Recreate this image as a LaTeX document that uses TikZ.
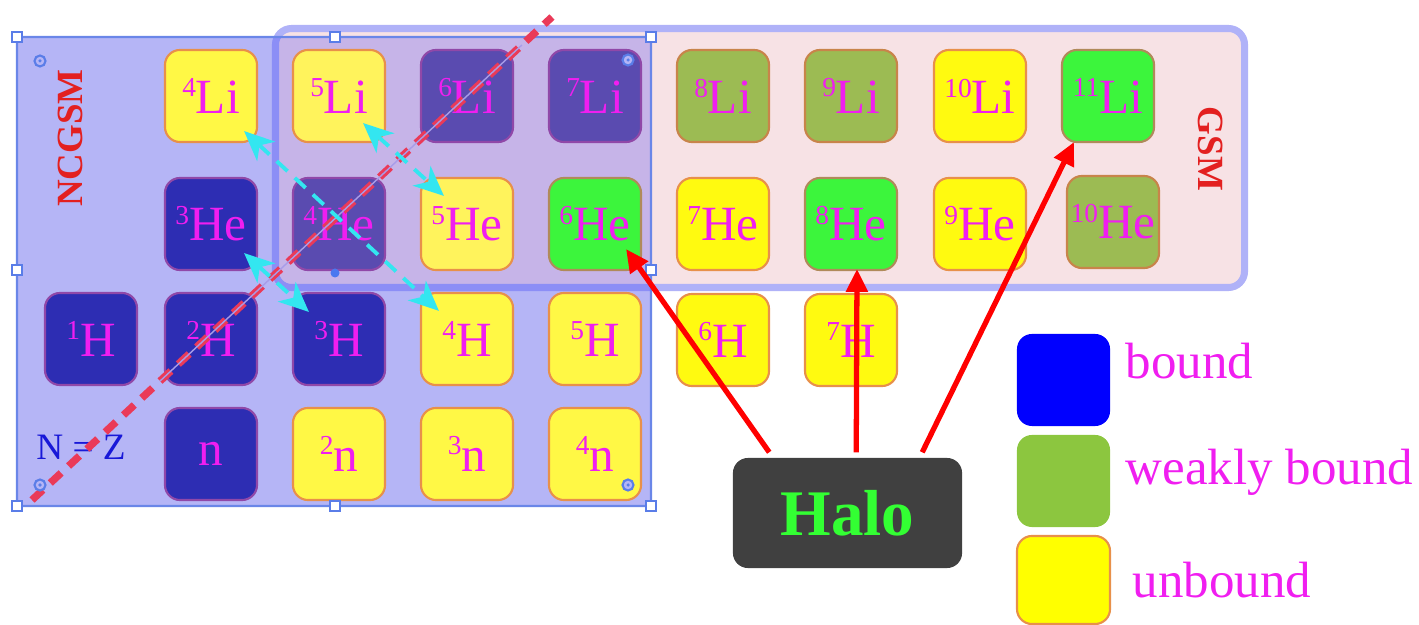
\documentclass[tikz,border=0pt]{standalone}
\usepackage{fontspec}
\setmainfont{Liberation Serif}
\usetikzlibrary{arrows.meta,calc}

\definecolor{ncfill}{HTML}{B5B5F6}
\definecolor{ncline}{HTML}{6A86E8}
\definecolor{ovfill}{HTML}{C6B4E8}
\definecolor{gsmfill}{HTML}{F7E2E5}
\definecolor{gsmline}{HTML}{B0B2F8}
\definecolor{gsmlinein}{HTML}{8C8EF6}
\definecolor{bndc}{HTML}{2D2DB3}
\definecolor{bndoc}{HTML}{5A4BB0}
\definecolor{bndb}{HTML}{9048A8}
\definecolor{yelc}{HTML}{FFF845}
\definecolor{yeloc}{HTML}{FFF35C}
\definecolor{yelout}{HTML}{FFFA10}
\definecolor{orgb}{HTML}{E8904A}
\definecolor{olivec}{HTML}{9CBB53}
\definecolor{oliveb}{HTML}{C8844A}
\definecolor{halc}{HTML}{3CF53C}
\definecolor{halb}{HTML}{B08A5A}
\definecolor{mag}{HTML}{F01EF0}
\definecolor{redt}{HTML}{E32020}
\definecolor{nzline}{HTML}{EA3A58}
\definecolor{nzthin}{HTML}{A89CE8}
\definecolor{cyanc}{HTML}{33E6F0}
\definecolor{arrred}{HTML}{FF0000}
\definecolor{halobox}{HTML}{404040}
\definecolor{halotext}{HTML}{33FF33}
\definecolor{nzblue}{HTML}{1818D8}
\definecolor{handlec}{HTML}{5A7DE8}
\definecolor{handledot}{HTML}{4A78F0}
\definecolor{legblue}{HTML}{0000FF}
\definecolor{leggreen}{HTML}{8CC63F}
\definecolor{legyellow}{HTML}{FFFF00}

\newcommand\nucfont{\fontsize{14}{16}\selectfont}
\newcommand\legfont{\fontsize{14.5}{17}\selectfont}
\newcommand\iso[1]{\raisebox{4.6pt}{\fontsize{7.8}{8}\selectfont #1}}

\tikzset{
  nuc/.style={rectangle, rounded corners=0.15cm, minimum width=0.92cm, minimum height=0.92cm,
    inner sep=0pt, line width=0.6pt, text=mag, font=\nucfont},
  bnd/.style={nuc, fill=bndc, draw=bndb},
  bndo/.style={nuc, fill=bndoc, draw=bndb},
  unb/.style={nuc, fill=yelc, draw=orgb},
  unbo/.style={nuc, fill=yeloc, draw=orgb},
  unbx/.style={nuc, fill=yelout, draw=orgb},
  weak/.style={nuc, fill=olivec, draw=oliveb},
  halonuc/.style={nuc, fill=halc, draw=halb},
  legbox/.style={rectangle, rounded corners=0.15cm, minimum width=0.93cm, minimum height=0.92cm, inner sep=0pt},
  legtext/.style={anchor=base west, text=mag, font=\legfont, inner sep=0pt},
  redarr/.style={draw=arrred, line width=1.5pt, -{Triangle[length=6.5pt,width=6pt]}},
  cyanarr/.style={draw=cyanc, line width=1.1pt, dash pattern=on 4.2pt off 2.8pt,
    {Stealth[length=8.5pt,width=7.5pt,inset=2.5pt]}-{Stealth[length=8.5pt,width=7.5pt,inset=2.5pt]}},
  handlebox/.style={rectangle, draw=handlec, fill=white, minimum size=0.1cm, inner sep=0pt, line width=0.6pt},
  handlering/.style={circle, draw=handlec, fill=ncfill, minimum size=0.11cm, inner sep=0pt, line width=0.6pt},
}

\begin{document}
\begin{tikzpicture}[x=0.01cm,y=-0.01cm]
\useasboundingbox (0,0) rectangle (1419,625);

% GSM region
\draw[gsmline, line width=2pt, fill=gsmfill, rounded corners=0.16cm] (275.5,28.5) rectangle (1244.5,287.5);
% NCGSM region
\fill[ncfill, rounded corners=0.08cm] (17,37) rectangle (651,506);
\begin{scope}
  \clip (17,37) rectangle (651,506);
  \fill[ovfill] (275.5,28.5) rectangle (660,287.5);
  \draw[gsmlinein, line width=2pt, rounded corners=0.16cm] (275.5,28.5) rectangle (1244.5,287.5);
\end{scope}
\draw[ncline, line width=0.6pt, rounded corners=0.06cm] (17,37) rectangle (651,506);

% region labels
\node[rotate=90, text=redt, font=\bfseries\fontsize{10.5}{12}\selectfont] (ncgsm) at (70,138) {NCGSM};
\node[rotate=-90, text=redt, font=\bfseries\fontsize{10.5}{12}\selectfont] (gsm) at (1211,149) {GSM};
\node[text=nzblue, font=\fontsize{10.6}{12}\selectfont] (nz) at (81,447) {N = Z};

% Li row
\node[unb]     (n4Li)  at (211,96)  {\iso{4}Li};
\node[unbo]    (n5Li)  at (339,96)  {\iso{5}Li};
\node[bndo]    (n6Li)  at (467,96)  {\iso{6}Li};
\node[bndo]    (n7Li)  at (595,96)  {\iso{7}Li};
\node[weak]    (n8Li)  at (723,96)  {\iso{8}Li};
\node[weak]    (n9Li)  at (851,96)  {\iso{9}Li};
\node[unbx]    (n10Li) at (980,96)  {\iso{10}Li};
\node[halonuc] (n11Li) at (1108,96) {\iso{11}Li};
% He row
\node[bnd]     (n3He)  at (211,224) {\iso{3}He};
\node[bndo]    (n4He)  at (339,224) {\iso{4}He};
\node[unbo]    (n5He)  at (467,224) {\iso{5}He};
\node[halonuc] (n6He)  at (595,224) {\iso{6}He};
\node[unbx]    (n7He)  at (723,224) {\iso{7}He};
\node[halonuc] (n8He)  at (851,224) {\iso{8}He};
\node[unbx]    (n9He)  at (980,224) {\iso{9}He};
\node[weak]    (n10He) at (1113,222) {\iso{10}He};
% H row
\node[bnd]     (n1H) at (91,339)  {\iso{1}H};
\node[bnd]     (n2H) at (211,339) {\iso{2}H};
\node[bnd]     (n3H) at (339,339) {\iso{3}H};
\node[unb]     (n4H) at (467,339) {\iso{4}H};
\node[unb]     (n5H) at (595,339) {\iso{5}H};
\node[unbx]    (n6H) at (723,340) {\iso{6}H};
\node[unbx]    (n7H) at (851,340) {\iso{7}H};
% n row
\node[bnd]     (nn)  at (211,454) {n};
\node[unb]     (n2n) at (339,454) {\iso{2}n};
\node[unb]     (n3n) at (467,454) {\iso{3}n};
\node[unb]     (n4n) at (595,454) {\iso{4}n};

% N = Z line
\coordinate (nzA) at (32,500);
\coordinate (nzB) at (552,17);
\draw[nzline, line width=2.1pt, dash pattern=on 4.2pt off 2.9pt] (nzA) -- (nzB);
\draw[nzthin, line width=0.4pt] ($(nzA)!0.246!(nzB)$) -- ($(nzA)!0.942!(nzB)$);

% isobar arrows
\draw[cyanarr] ($(n4Li.south east)+(-14,-12)$) -- ($(n4H.north west)+(19,19)$);
\draw[cyanarr] ($(n5Li.south east)+(-23,-20)$) -- ($(n5He.north west)+(24,19)$);
\draw[cyanarr] ($(n3He.south east)+(-14,-18)$) -- ($(n3H.north west)+(17,20)$);

% selection handles
\foreach \p/\q in {17/37, 335/37, 651/37, 17/270, 651/270, 17/506, 335/506, 651/506}
  \node[handlebox] (h\p-\q) at (\p,\q) {};
\foreach \p/\q in {40/61, 628/60, 40/485, 628/485}{
  \node[handlering] (r\p-\q) at (\p,\q) {};
  \node[circle, fill=handlec, minimum size=0.035cm, inner sep=0pt] (d\p-\q) at (\p,\q) {};
}
\node[circle, fill=handledot, minimum size=0.09cm, inner sep=0pt] (rot) at (335,273) {};

% Halo
\node[fill=halobox, rounded corners=0.15cm, minimum width=2.29cm, minimum height=1.1cm, inner sep=0pt,
  text=halotext, font=\bfseries\fontsize{18.5}{20}\selectfont] (halo) at (847.5,513) {Halo};
\draw[redarr] ($(halo.north west)+(37,-5)$) -- ($(n6He.south east)+(-16,-22)$);
\draw[redarr] ($(halo.north west)+(124,-5)$) -- ($(n8He.south)+(6,-2)$);
\draw[redarr] ($(halo.north west)+(190,-5)$) -- ($(n11Li.south west)+(13,-1)$);

% Legend
\node[legbox, fill=legblue] (lb1) at (1063.5,380) {};
\node[legbox, fill=leggreen] (lb2) at (1063.5,481) {};
\node[legbox, fill=legyellow, draw=orgb, line width=0.6pt, minimum height=0.88cm] (lb3) at (1063.5,580) {};
\node[legtext] (lt1) at (1125,379) {bound};
\node[legtext] (lt2) at (1125,485) {weakly bound};
\node[legtext] (lt3) at (1132,597) {unbound};
\end{tikzpicture}
\end{document}
